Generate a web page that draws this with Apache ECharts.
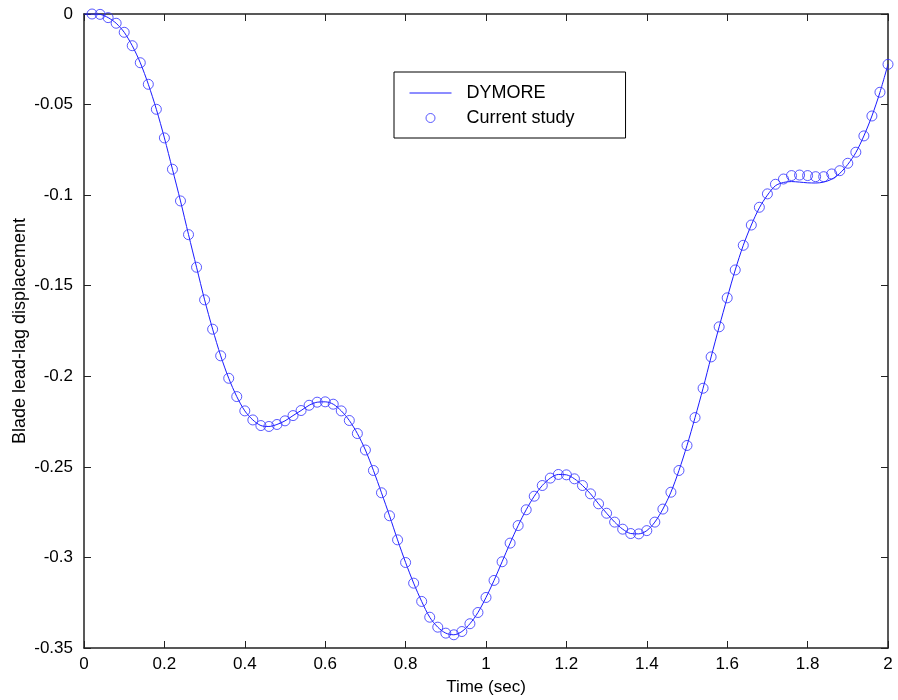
<!DOCTYPE html>
<html>
<head>
<meta charset="utf-8">
<script src="https://cdn.jsdelivr.net/npm/echarts@6/dist/echarts.min.js"></script>
<style>
html,body{margin:0;padding:0;background:#fff;}
#chart{width:898px;height:700px;}
</style>
</head>
<body>
<div id="chart"></div>
<script>
// Time (sec) for the "Current study" markers
var studyTime = [0.02,0.04,0.06,0.08,0.10,0.12,0.14,0.16,0.18,0.20,
  0.22,0.24,0.26,0.28,0.30,0.32,0.34,0.36,0.38,0.40,
  0.42,0.44,0.46,0.48,0.50,0.52,0.54,0.56,0.58,0.60,
  0.62,0.64,0.66,0.68,0.70,0.72,0.74,0.76,0.78,0.80,
  0.82,0.84,0.86,0.88,0.90,0.92,0.94,0.96,0.98,1.00,
  1.02,1.04,1.06,1.08,1.10,1.12,1.14,1.16,1.18,1.20,
  1.22,1.24,1.26,1.28,1.30,1.32,1.34,1.36,1.38,1.40,
  1.42,1.44,1.46,1.48,1.50,1.52,1.54,1.56,1.58,1.60,
  1.62,1.64,1.66,1.68,1.70,1.72,1.74,1.76,1.78,1.80,
  1.82,1.84,1.86,1.88,1.90,1.92,1.94,1.96,1.98,2.00];
var studyValues = [0.0000,-0.0002,-0.0020,-0.0051,-0.0101,-0.0175,-0.0269,-0.0388,-0.0526,-0.0684,
  -0.0857,-0.1032,-0.1218,-0.1398,-0.1578,-0.1740,-0.1887,-0.2011,-0.2112,-0.2191,
  -0.2241,-0.2272,-0.2277,-0.2266,-0.2246,-0.2217,-0.2189,-0.2160,-0.2143,-0.2141,
  -0.2154,-0.2191,-0.2244,-0.2316,-0.2407,-0.2520,-0.2643,-0.2770,-0.2903,-0.3028,
  -0.3142,-0.3243,-0.3330,-0.3385,-0.3418,-0.3427,-0.3409,-0.3366,-0.3304,-0.3221,
  -0.3127,-0.3024,-0.2921,-0.2824,-0.2737,-0.2662,-0.2603,-0.2562,-0.2542,-0.2544,
  -0.2566,-0.2603,-0.2649,-0.2704,-0.2756,-0.2805,-0.2844,-0.2868,-0.2870,-0.2852,
  -0.2805,-0.2733,-0.2640,-0.2520,-0.2382,-0.2228,-0.2066,-0.1893,-0.1727,-0.1567,
  -0.1413,-0.1277,-0.1165,-0.1067,-0.0993,-0.0940,-0.0911,-0.0892,-0.0889,-0.0892,
  -0.0898,-0.0898,-0.0883,-0.0865,-0.0824,-0.0763,-0.0673,-0.0563,-0.0432,-0.0278];

// DYMORE reference solution
var dymoreTime = [0.00].concat(studyTime);
var dymoreValues = [0.0000,0.0000,-0.0002,-0.0020,-0.0051,-0.0101,-0.0175,-0.0269,-0.0388,-0.0526,-0.0684,
  -0.0857,-0.1032,-0.1218,-0.1398,-0.1578,-0.1740,-0.1887,-0.2011,-0.2112,-0.2191,
  -0.2241,-0.2272,-0.2277,-0.2266,-0.2246,-0.2217,-0.2189,-0.2160,-0.2143,-0.2141,
  -0.2154,-0.2191,-0.2244,-0.2316,-0.2407,-0.2520,-0.2643,-0.2770,-0.2903,-0.3028,
  -0.3142,-0.3243,-0.3330,-0.3385,-0.3418,-0.3427,-0.3409,-0.3366,-0.3304,-0.3221,
  -0.3127,-0.3024,-0.2921,-0.2824,-0.2737,-0.2662,-0.2603,-0.2562,-0.2542,-0.2544,
  -0.2566,-0.2603,-0.2649,-0.2704,-0.2756,-0.2805,-0.2844,-0.2868,-0.2870,-0.2852,
  -0.2805,-0.2733,-0.2640,-0.2520,-0.2382,-0.2228,-0.2066,-0.1893,-0.1727,-0.1567,
  -0.1413,-0.1277,-0.1165,-0.1070,-0.1000,-0.0948,-0.0930,-0.0925,-0.0928,-0.0932,
  -0.0933,-0.0928,-0.0912,-0.0880,-0.0830,-0.0765,-0.0673,-0.0563,-0.0432,-0.0278];

var xTicks = {min: 0, max: 2, interval: 0.2};
var yTicks = {min: -0.35, max: 0, interval: 0.05};

var seriesNames = ['DYMORE', 'Current study'];
var xTitle = 'Time (sec)';
var yTitle = 'Blade lead-lag displacement';

function zip(a, b) { var out = []; for (var i = 0; i < a.length; i++) out.push([a[i], b[i]]); return out; }

var FONT = '"Liberation Sans", Helvetica, Arial, sans-serif';
var frameLine = {show: true, onZero: false, lineStyle: {color: '#222', width: 1.5}};
var tickIn = {show: true, inside: true, length: 7, lineStyle: {color: '#222', width: 1}};

var chart = echarts.init(document.getElementById('chart'), null, {renderer: 'canvas'});
chart.setOption({
  animation: false,
  backgroundColor: '#fff',
  grid: {left: 84, right: 10, top: 14, bottom: 52, containLabel: false, outerBoundsMode: 'none'},
  legend: {
    orient: 'vertical',
    left: 394, top: 72,
    padding: [12, 51, 11, 15],
    itemGap: 7,
    itemWidth: 42,
    itemHeight: 9,
    borderColor: '#000', borderWidth: 1,
    backgroundColor: '#fff',
    textStyle: {fontFamily: FONT, fontSize: 18, color: '#000', padding: [0, 0, 0, 10]},
    data: [
      {name: seriesNames[0], itemStyle: {color: 'rgba(0,0,0,0)', borderWidth: 0, opacity: 0},
       lineStyle: {width: 1, color: '#1a1aff'}},
      {name: seriesNames[1], icon: 'circle', itemStyle: {color: 'rgba(0,0,0,0)', borderColor: '#2f2fff', borderWidth: 1}}
    ]
  },
  xAxis: [{
    type: 'value', position: 'bottom', min: xTicks.min, max: xTicks.max, interval: xTicks.interval,
    name: xTitle, nameLocation: 'middle', nameGap: 31, nameMoveOverlap: false,
    nameTextStyle: {fontFamily: FONT, fontSize: 17, color: '#000'},
    axisLine: frameLine, axisTick: tickIn, splitLine: {show: false},
    axisLabel: {fontFamily: FONT, fontSize: 17, color: '#000', margin: 8}
  }, {
    type: 'value', position: 'top', min: xTicks.min, max: xTicks.max, interval: xTicks.interval,
    axisLine: frameLine, axisTick: tickIn, splitLine: {show: false}, axisLabel: {show: false}
  }],
  yAxis: [{
    type: 'value', position: 'left', min: yTicks.min, max: yTicks.max, interval: yTicks.interval,
    name: yTitle, nameLocation: 'middle', nameGap: 55, nameMoveOverlap: false,
    nameTextStyle: {fontFamily: FONT, fontSize: 18, color: '#000'},
    axisLine: frameLine, axisTick: tickIn, splitLine: {show: false},
    axisLabel: {fontFamily: FONT, fontSize: 17, color: '#000', margin: 11}
  }, {
    type: 'value', position: 'right', min: yTicks.min, max: yTicks.max, interval: yTicks.interval,
    axisLine: frameLine, axisTick: tickIn, splitLine: {show: false}, axisLabel: {show: false}
  }],
  series: [{
    name: seriesNames[0], type: 'line', xAxisIndex: 0, yAxisIndex: 0,
    data: zip(dymoreTime, dymoreValues),
    showSymbol: false, symbol: 'none', smooth: 0.3,
    lineStyle: {color: '#1a1aff', width: 1},
    itemStyle: {color: '#1a1aff'},
    z: 2
  }, {
    name: seriesNames[1], type: 'scatter', xAxisIndex: 0, yAxisIndex: 0,
    data: zip(studyTime, studyValues),
    symbol: 'circle', symbolSize: 10,
    itemStyle: {color: 'rgba(0,0,0,0)', borderColor: '#2f2fff', borderWidth: 1},
    z: 3
  }]
});
</script>
</body>
</html>
